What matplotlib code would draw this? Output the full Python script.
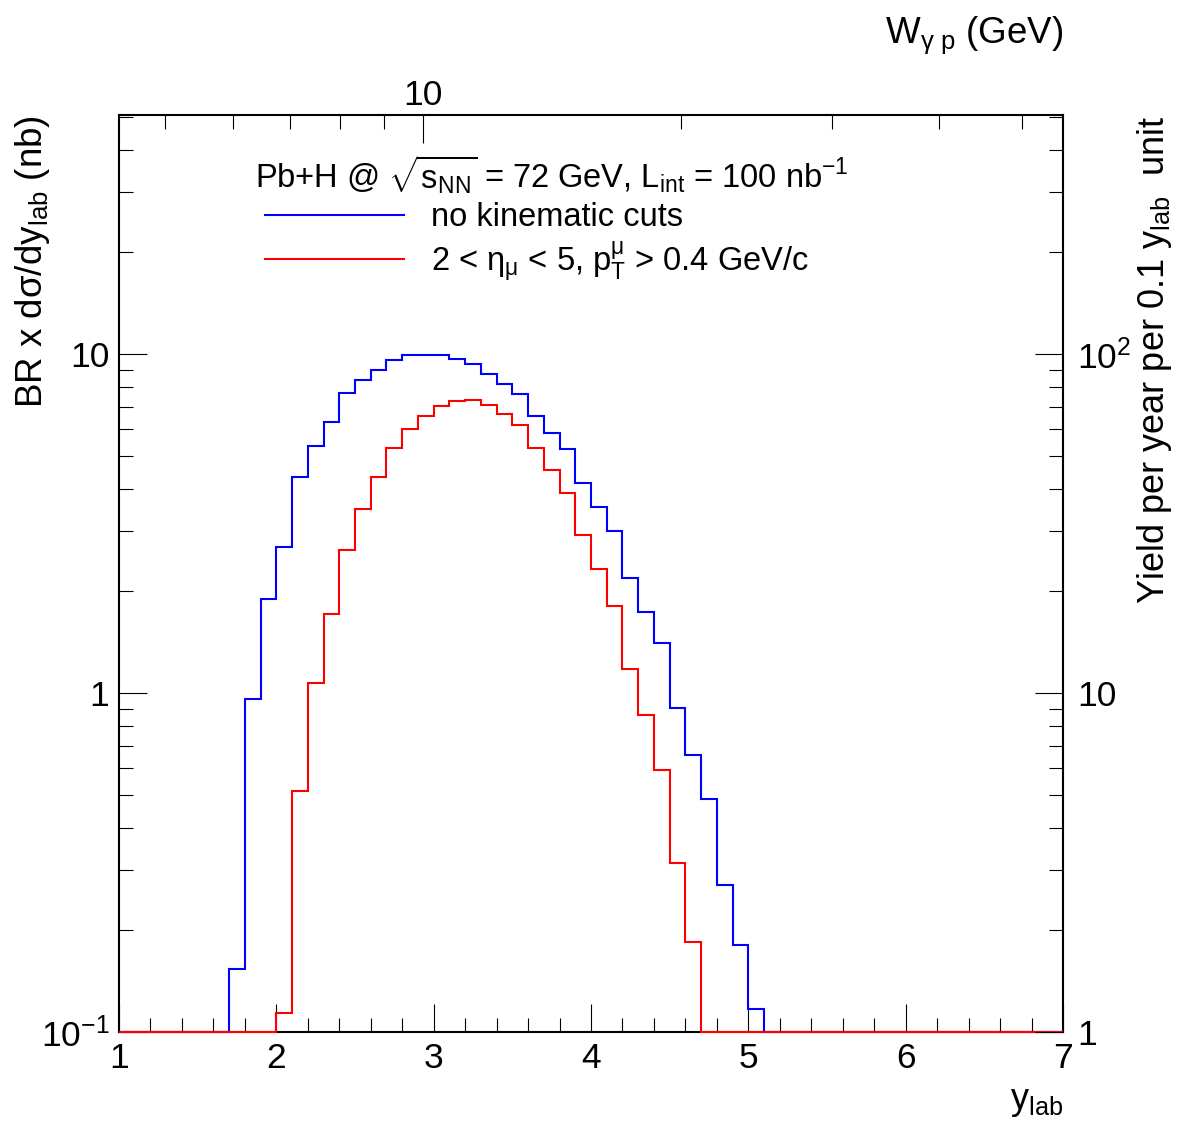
import numpy as np
import matplotlib
matplotlib.use('Agg')
import matplotlib.pyplot as plt
from matplotlib.ticker import FixedLocator, NullFormatter, FixedFormatter, LogLocator, MultipleLocator
from matplotlib.lines import Line2D

plt.rcParams['font.family'] = ['Liberation Sans', 'DejaVu Sans']
plt.rcParams['mathtext.fontset'] = 'custom'
plt.rcParams['mathtext.rm'] = 'Liberation Sans'
plt.rcParams['mathtext.it'] = 'Liberation Sans'
plt.rcParams['mathtext.bf'] = 'Liberation Sans:bold'
plt.rcParams['mathtext.default'] = 'regular'

# ---------------- data ----------------
bin_edges = np.round(np.linspace(1.0, 7.0, 61), 2)   # y_lab bins of width 0.1

# BR x dsigma/dy (nb), no kinematic cuts (60 bins from 1.0 to 7.0)
no_cuts = [0.0, 0.0, 0.0, 0.0, 0.0, 0.0, 0.0,
           0.153, 0.962, 1.89, 2.70, 4.34, 5.36, 6.29, 7.66, 8.36, 8.95,
           9.62, 9.91, 9.95, 9.93, 9.67, 9.36, 8.75, 8.14, 7.61, 6.58,
           5.86, 5.26, 4.16, 3.53, 3.01, 2.18, 1.73, 1.40, 0.903, 0.656,
           0.487, 0.271, 0.181, 0.117,
           0.0, 0.0, 0.0, 0.0, 0.0, 0.0, 0.0, 0.0, 0.0, 0.0,
           0.0, 0.0, 0.0, 0.0, 0.0, 0.0, 0.0, 0.0, 0.0]

# 2 < eta_mu < 5, pT > 0.4 GeV/c
with_cuts = [0.0, 0.0, 0.0, 0.0, 0.0, 0.0, 0.0, 0.0, 0.0, 0.0,
             0.114, 0.514, 1.07, 1.71, 2.65, 3.49, 4.35, 5.29, 6.00, 6.58,
             7.04, 7.25, 7.33, 7.06, 6.65, 6.17, 5.28, 4.56, 3.89, 2.92,
             2.32, 1.81, 1.18, 0.863, 0.591, 0.316, 0.184,
             0.0, 0.0, 0.0, 0.0, 0.0, 0.0, 0.0, 0.0, 0.0, 0.0,
             0.0, 0.0, 0.0, 0.0, 0.0, 0.0, 0.0, 0.0, 0.0, 0.0,
             0.0, 0.0, 0.0]

x_ticks = [1, 2, 3, 4, 5, 6, 7]
x_ticklabels = ['1', '2', '3', '4', '5', '6', '7']
y_ticks = [0.1, 1, 10]
y_ticklabels = ['$10^{-1}$', '1', '10']
yr_ticks = [1, 10, 100]
yr_ticklabels = ['1', '10', '$10^{2}$']
w_major = [10]
w_major_labels = ['10']
w_minor = [5, 6, 7, 8, 9, 20, 30, 40, 50]

y_range = (0.1, 50.7)
yield_factor = 10.0          # 100 nb^-1 x 0.1 y_lab unit
w_range = (4.416, 55.8)

header = r'Pb+H @ $\sqrt{s_{NN}}$ = 72 GeV, L$_{int}$ = 100 nb$^{-1}$'
labels = ['no kinematic cuts', r'2 < η$_{μ}$ < 5, p$_{T}^{μ}$ > 0.4 GeV/c']

# ---------------- figure ----------------
fig = plt.figure(figsize=(11.82, 11.48), dpi=100)
ax = fig.add_axes([119 / 1182, 116 / 1148, 944 / 1182, 917 / 1148])

ymin = y_range[0]
ax.stairs(np.maximum(no_cuts, ymin), bin_edges, color='#0000ff', lw=1.5,
          baseline=None, clip_on=False, zorder=3)
ax.stairs(np.maximum(with_cuts, ymin), bin_edges, color='#ff0000', lw=1.5,
          baseline=None, clip_on=False, zorder=3.1)

ax.set_xlim(1, 7)
ax.set_yscale('log')
ax.set_ylim(*y_range)

for s in ax.spines.values():
    s.set_linewidth(1.5)

ax.xaxis.set_major_locator(FixedLocator(x_ticks))
ax.xaxis.set_major_formatter(FixedFormatter(x_ticklabels))
ax.xaxis.set_minor_locator(MultipleLocator(0.2))
ax.yaxis.set_major_locator(FixedLocator(y_ticks))
ax.yaxis.set_major_formatter(FixedFormatter(y_ticklabels))
ax.yaxis.set_minor_locator(LogLocator(base=10, subs=np.arange(2, 10)))
ax.yaxis.set_minor_formatter(NullFormatter())
ax.tick_params(which='both', direction='in', top=False, right=False, width=0.8)
ax.tick_params(which='major', length=20, labelsize=25.5)
ax.tick_params(which='minor', length=10)
ax.tick_params(axis='x', which='major', pad=7)
ax.tick_params(axis='y', which='major', pad=7)

ax.set_xlabel('y$_{lab}$', fontsize=26, loc='right')
ax.xaxis.set_label_coords(1.0, -0.057)
ax.set_ylabel('BR x dσ/dy$_{lab}$ (nb)', fontsize=26.5, loc='top')
ax.yaxis.set_label_coords(-0.071, 1.0)

# right axis: yield
ax_r = ax.twinx()
ax_r.set_yscale('log')
ax_r.set_ylim(y_range[0] * yield_factor, y_range[1] * yield_factor)
ax_r.yaxis.set_major_locator(FixedLocator(yr_ticks))
ax_r.yaxis.set_major_formatter(FixedFormatter(yr_ticklabels))
ax_r.yaxis.set_minor_locator(LogLocator(base=10, subs=np.arange(2, 10)))
ax_r.yaxis.set_minor_formatter(NullFormatter())
ax_r.tick_params(which='both', direction='in', width=0.8)
ax_r.tick_params(which='major', length=20, labelsize=25.5, pad=10)
ax_r.tick_params(which='minor', length=10)
ax_r.set_ylabel('Yield per year per 0.1 y$_{lab}$  unit', fontsize=26, loc='top')
ax_r.yaxis.set_label_coords(1.076, 1.0)
for s in ax_r.spines.values():
    s.set_visible(False)

# top axis: W_gamma p
ax_t = ax.twiny()
ax_t.set_xscale('log')
ax_t.set_xlim(*w_range)
ax_t.xaxis.set_major_locator(FixedLocator(w_major))
ax_t.xaxis.set_major_formatter(FixedFormatter(w_major_labels))
ax_t.xaxis.set_minor_locator(FixedLocator(w_minor))
ax_t.xaxis.set_minor_formatter(NullFormatter())
ax_t.tick_params(which='both', direction='in', width=0.8)
ax_t.tick_params(which='major', length=20, labelsize=25.5, pad=2)
ax_t.tick_params(which='minor', length=10)
ax_t.set_xlabel('W$_{γ\\ p}$ (GeV)', fontsize=26.5, loc='right')
ax_t.xaxis.set_label_coords(1.0, 1.079)
for s in ax_t.spines.values():
    s.set_visible(False)

# header text and legend
ax.text(0.144, 0.935, header, transform=ax.transAxes, fontsize=23.5,
        ha='left', va='center')
handles = [Line2D([], [], color='#0000ff', lw=1.5),
           Line2D([], [], color='#ff0000', lw=1.5)]
leg = ax.legend(handles, labels, fontsize=23.5,
                frameon=False, loc='upper left', bbox_to_anchor=(0.1547, 0.905),
                borderpad=0, borderaxespad=0, handlelength=4.25, handletextpad=0.85,
                labelspacing=0.2)

fig.savefig('out.png', dpi=100)
